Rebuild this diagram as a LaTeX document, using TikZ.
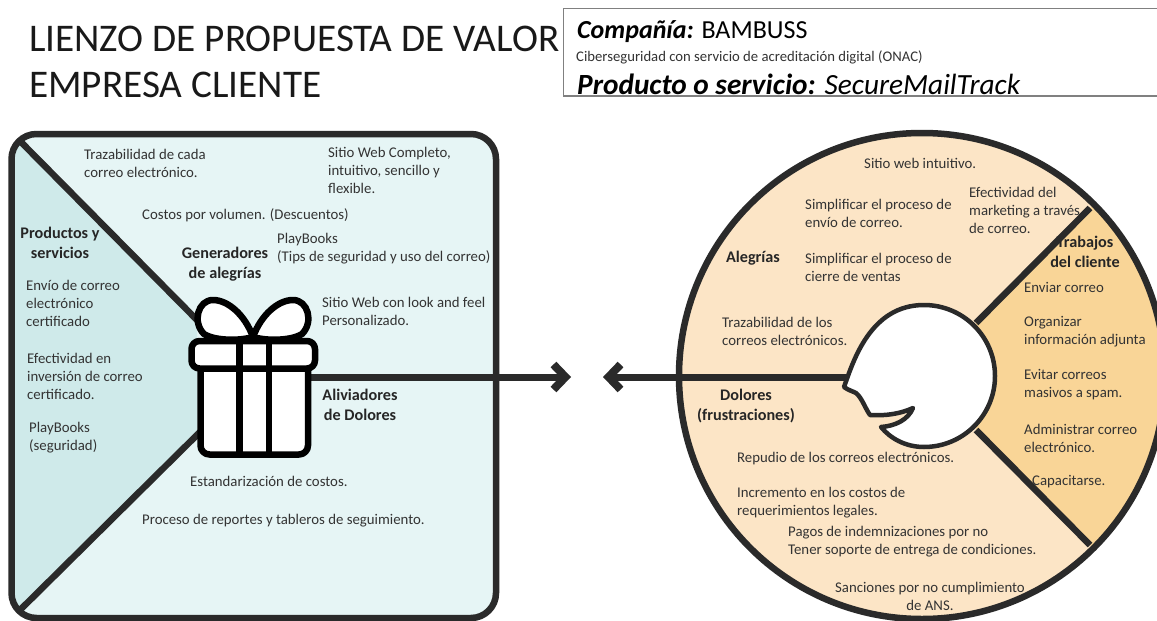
\documentclass[tikz,border=0pt]{standalone}
\usepackage{fontspec}
\setmainfont{Carlito}
\usetikzlibrary{arrows.meta}
\definecolor{inkdark}{HTML}{2A2A2A}
\definecolor{texttone}{HTML}{333333}
\definecolor{tealpale}{HTML}{E6F5F5}
\definecolor{tealdeep}{HTML}{CFEAEA}
\definecolor{sandpale}{HTML}{FCE5C6}
\definecolor{sanddeep}{HTML}{F9D597}
\tikzset{
  itemtext/.style={anchor=west, align=left, inner sep=0pt, text=texttone, font=\fontsize{14.8}{18}\selectfont},
  headtext/.style={align=center, inner sep=0pt, text=black!85, font=\fontsize{16.2}{20.5}\selectfont\bfseries},
  titletext/.style={anchor=west, inner sep=0pt, text=black!90, font=\fontsize{39.2}{44}\selectfont},
  thickline/.style={inkdark, line width=6.5pt},
  giftline/.style={black, line width=6.5pt, fill=white, line join=round},
  arrowline/.style={inkdark, line width=7pt, -{Straight Barb[length=12pt,width=25pt,line width=8pt]}}
}
\begin{document}
\begin{tikzpicture}[x=1pt,y=-1pt]
\useasboundingbox (0,0) rectangle (1157,621);
\clip (0,0) rectangle (1157,621);
\fill[white] (0,0) rectangle (1157,621);

% title and header box
\node[titletext] (titleone) at (29,39) {LIENZO DE PROPUESTA DE VALOR};
\node[titletext] (titletwo) at (29,85) {EMPRESA CLIENTE};
\draw[gray, line width=1pt] (563,96) -- (563,8) -- (1158,8);
\draw[gray, line width=1.5pt] (563,96) -- (1158,96);
\node[anchor=west, inner sep=0pt, font=\fontsize{26}{30}\selectfont] (company) at (577,32) {\textbf{\textit{Compañía:}} BAMBUSS};
\node[anchor=west, inner sep=0pt, text=texttone, font=\fontsize{14.7}{16}\selectfont] (sector) at (576,57) {Ciberseguridad con servicio de acreditación digital (ONAC)};
\node[anchor=west, inner sep=0pt, font=\fontsize{29.3}{32}\selectfont\itshape] (product) at (577,84) {\textbf{Producto o servicio:} SecureMailTrack};

% value map square
\begin{scope}
\clip[rounded corners=25pt] (11.5,134) rectangle (496,618);
\fill[tealpale] (0,120) rectangle (500,621);
\fill[tealdeep] (0,120) -- (197,320) -- (197,435) -- (0,630) -- cycle;
\end{scope}

% customer circle
\fill[sandpale] (922,376) circle[radius=243];
\begin{scope}
\clip (922,376) circle[radius=243];
\fill[sanddeep] (976,323) -- (1115,183) -- (1200,183) -- (1200,570) -- (1115,570) -- (976,430) -- cycle;
\end{scope}

% texts of the square
\foreach \x/\y/\descr [count=\i] in {84/163/{Trazabilidad de cada\\correo electrónico.},
  328/170/{Sitio Web Completo,\\intuitivo, sencillo y\\flexible.},
  142/215/{Costos por volumen. (Descuentos)},
  277/249/{PlayBooks\\(Tips de seguridad y uso del correo)},
  26/303/{Envío de correo\\electrónico\\certificado},
  27/376/{Efectividad en\\inversión de correo\\certificado.},
  29/438/{PlayBooks\\(seguridad)},
  322/311/{Sitio Web con look and feel\\Personalizado.},
  190/481/{Estandarización de costos.},
  142/521/{Proceso de reportes y tableros de seguimiento.}}
\node[itemtext] (gain\i) at (\x,\y) {\descr};

% texts of the circle
\foreach \x/\y/\descr [count=\i] in {864/163/{Sitio web intuitivo.},
  805/213/{Simplificar el proceso de\\envío de correo.},
  805/267/{Simplificar el proceso de\\cierre de ventas},
  969/210/{Efectividad del\\marketing a través\\de correo.},
  722/331/{Trazabilidad de los\\correos electrónicos.},
  737/459/{Repudio de los correos electrónicos.},
  737/503/{Incremento en los costos de\\requerimientos legales.},
  788/542/{Pagos de indemnizaciones por no\\Tener soporte de entrega de condiciones.},
  1024/287/{Enviar correo},
  1024/332/{Organizar\\información adjunta},
  1024/385/{Evitar correos\\masivos a spam.},
  1024/438/{Administrar correo\\electrónico.},
  1032/482/{Capacitarse.}}
\node[itemtext] (job\i) at (\x,\y) {\descr};
\node[itemtext, align=center, anchor=center] (fines) at (930,596) {Sanciones por no cumplimiento\\de ANS.};

% bold headings
\foreach \x/\y/\descr [count=\i] in {60/243/{Productos y\\servicios},
  225/264/{Generadores\\de alegrías},
  360/405/{Aliviadores\\de Dolores},
  753/258/{Alegrías},
  746/406/{Dolores\\(frustraciones)},
  1085/252/{Trabajos\\del cliente}}
\node[headtext] (head\i) at (\x,\y) {\descr};

% frames and dividing lines
\draw[thickline, rounded corners=25pt] (11.5,134) rectangle (496,618);
\draw[thickline] (922,376) circle[radius=243];
\coordinate (cornertop) at (18,139);
\coordinate (cornerbottom) at (18,612);
\coordinate (gifttop) at (200,323);
\coordinate (giftbottom) at (200,432);
\coordinate (giftside) at (310,377);
\coordinate (barbright) at (571,377);
\coordinate (mouth) at (850,377);
\coordinate (barbleft) at (603,377);
\coordinate (rimup) at (1090,208);
\coordinate (rimdown) at (1090,545);
\coordinate (chinup) at (976,323);
\coordinate (chindown) at (976,430);
\draw[thickline] (cornertop) -- (gifttop);
\draw[thickline] (cornerbottom) -- (giftbottom);
\draw[thickline] (chinup) -- (rimup);
\draw[thickline] (chindown) -- (rimdown);
\draw[arrowline] (giftside) -- (barbright);
\draw[arrowline] (mouth) -- (barbleft);

% gift
\draw[giftline, rounded corners=9pt] (200.5,360) -- (200.5,454.5) -- (308,454.5) -- (308,360);
\draw[giftline, rounded corners=8pt] (191.5,341) rectangle (315,368.5);
\draw[black, line width=6.5pt] (239.5,341) -- (239.5,454) (269,341) -- (269,454);
\draw[giftline] (253,337) .. controls (245,315) and (228,300) .. (213,300) .. controls (198,300) and (192,322) .. (204,334) .. controls (215,341) and (240,341) .. (253,337) -- cycle;
\draw[giftline] (253,337) .. controls (261,315) and (278,300) .. (293,300) .. controls (308,300) and (314,322) .. (302,334) .. controls (291,341) and (266,341) .. (253,337) -- cycle;

% head
\draw[inkdark, line width=4.5pt, fill=white, line join=round] (844,387) .. controls (853,362) and (870,305) .. (924,305) arc[start angle=-90, end angle=90, radius=71] .. controls (905,447) and (890,438) .. (881,427) .. controls (895,426) and (908,420) .. (913,408) .. controls (900,414) and (885,416) .. (870,415) .. controls (865,408) and (862,398) .. (856,393) .. controls (852,391) and (848,390) .. (844,387) -- cycle;
\end{tikzpicture}
\end{document}
